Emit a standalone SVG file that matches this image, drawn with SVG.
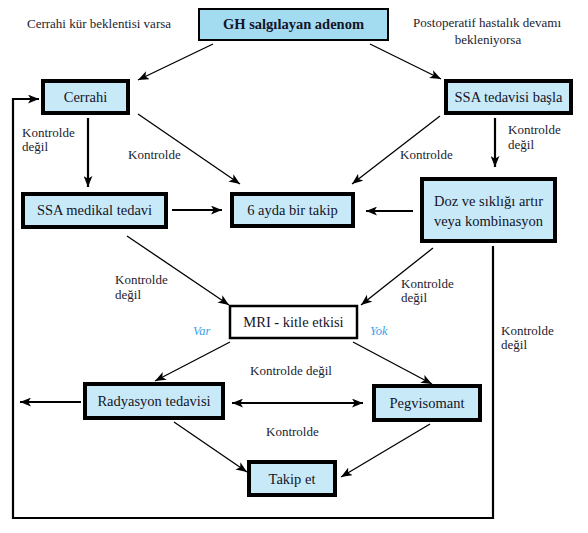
<svg xmlns="http://www.w3.org/2000/svg" width="588" height="533" viewBox="0 0 588 533">
<style>
.box{fill:#c8eaf8;stroke:#000;stroke-width:4}
.top{fill:#a3dbf1;stroke:#000;stroke-width:2}
.plain{fill:#fff;stroke:#000;stroke-width:2.5}
text{font-family:'Liberation Serif','Times New Roman',serif}
.t{font-size:14.5px;fill:#141428;text-anchor:middle}
.l{font-size:13px;fill:#1c1c30}
.c{text-anchor:middle}
.v{font-size:12.5px;font-style:italic;fill:#3a9fea}
.thin{stroke:#000;stroke-width:1.3;fill:none}
.thick{stroke:#000;stroke-width:2.2;fill:none}
</style>
<defs>
<marker id="a" viewBox="0 0 10 8" refX="10" refY="4" markerWidth="11" markerHeight="9" markerUnits="userSpaceOnUse" orient="auto-start-reverse">
<path d="M0,0 L10,4 L0,8 L2.5,4 Z" fill="#000"/>
</marker>
</defs>
<g id="connectors">
<line class="thin" x1="213" y1="44" x2="138" y2="80" marker-end="url(#a)"/>
<line class="thin" x1="370" y1="44" x2="441" y2="79" marker-end="url(#a)"/>
<polyline class="thick" points="493,246 493,518 13,518 13,99 39,99" marker-end="url(#a)"/>
<line class="thick" x1="88" y1="118" x2="88" y2="187" marker-end="url(#a)"/>
<line class="thin" x1="138" y1="114" x2="240" y2="184" marker-end="url(#a)"/>
<line class="thin" x1="440" y1="116" x2="352" y2="184" marker-end="url(#a)"/>
<line class="thick" x1="495" y1="118" x2="495" y2="167" marker-end="url(#a)"/>
<line class="thick" x1="172" y1="210" x2="222" y2="210" marker-end="url(#a)"/>
<line class="thick" x1="413" y1="211" x2="366" y2="211" marker-end="url(#a)"/>
<line class="thin" x1="127" y1="236" x2="229" y2="305" marker-end="url(#a)"/>
<line class="thin" x1="433" y1="248" x2="361" y2="305" marker-end="url(#a)"/>
<line class="thin" x1="230" y1="342" x2="155" y2="381" marker-end="url(#a)"/>
<line class="thin" x1="353" y1="342" x2="432" y2="384" marker-end="url(#a)"/>
<line class="thick" x1="81" y1="402" x2="20" y2="402" marker-end="url(#a)"/>
<line class="thick" x1="232" y1="403" x2="363" y2="403" marker-start="url(#a)" marker-end="url(#a)"/>
<line class="thin" x1="174" y1="422" x2="247" y2="472" marker-end="url(#a)"/>
<line class="thin" x1="430" y1="424" x2="341" y2="477" marker-end="url(#a)"/>
</g>
<g id="labels">
<text class="l" x="27" y="28">Cerrahi kür beklentisi varsa</text>
<text class="l" x="413" y="27">Postoperatif hastalık devamı</text>
<text class="l c" x="488" y="44">bekleniyorsa</text>
<text class="l" x="22" y="137">Kontrolde</text>
<text class="l" x="22" y="151">değil</text>
<text class="l" x="128" y="159">Kontrolde</text>
<text class="l" x="400" y="159">Kontrolde</text>
<text class="l" x="508" y="134">Kontrolde</text>
<text class="l" x="508" y="149">değil</text>
<text class="l" x="115" y="284">Kontrolde</text>
<text class="l" x="115" y="299">değil</text>
<text class="l" x="401" y="288">Kontrolde</text>
<text class="l" x="401" y="302">değil</text>
<text class="v" x="193" y="335">Var</text>
<text class="v" x="370" y="335">Yok</text>
<text class="l" x="501" y="335">Kontrolde</text>
<text class="l" x="501" y="349">değil</text>
<text class="l c" x="291" y="375">Kontrolde değil</text>
<text class="l" x="266" y="436">Kontrolde</text>
</g>
<g id="gh"><rect class="top" x="199" y="9" width="189" height="31"/><text class="t" x="293.5" y="29" font-weight="bold">GH salgılayan adenom</text></g>
<g id="cerrahi"><rect class="box" x="43" y="81" width="85" height="32"/><text class="t" x="85.5" y="102">Cerrahi</text></g>
<g id="ssa-basla"><rect class="box" x="446" y="81" width="125" height="32"/><text class="t" x="508.5" y="102">SSA tedavisi başla</text></g>
<g id="ssa-medikal"><rect class="box" x="23" y="194" width="143" height="33"/><text class="t" x="94.5" y="215">SSA medikal tedavi</text></g>
<g id="takip6"><rect class="box" x="232" y="194" width="121" height="32"/><text class="t" x="292.5" y="215">6 ayda bir takip</text></g>
<g id="doz"><rect class="box" x="422" y="179" width="133" height="62"/><text class="t" x="488.5" y="206">Doz ve sıklığı artır</text><text class="t" x="488.5" y="226">veya kombinasyon</text></g>
<g id="mri"><rect class="plain" x="230" y="306" width="127" height="32"/><text class="t" x="293.5" y="327">MRI - kitle etkisi</text></g>
<g id="radyasyon"><rect class="box" x="85" y="384" width="138" height="34"/><text class="t" x="154" y="406">Radyasyon tedavisi</text></g>
<g id="pegvisomant"><rect class="box" x="374" y="386" width="106" height="34"/><text class="t" x="427" y="408">Pegvisomant</text></g>
<g id="takip"><rect class="box" x="249" y="462" width="86" height="33"/><text class="t" x="292" y="484">Takip et</text></g>
</svg>
